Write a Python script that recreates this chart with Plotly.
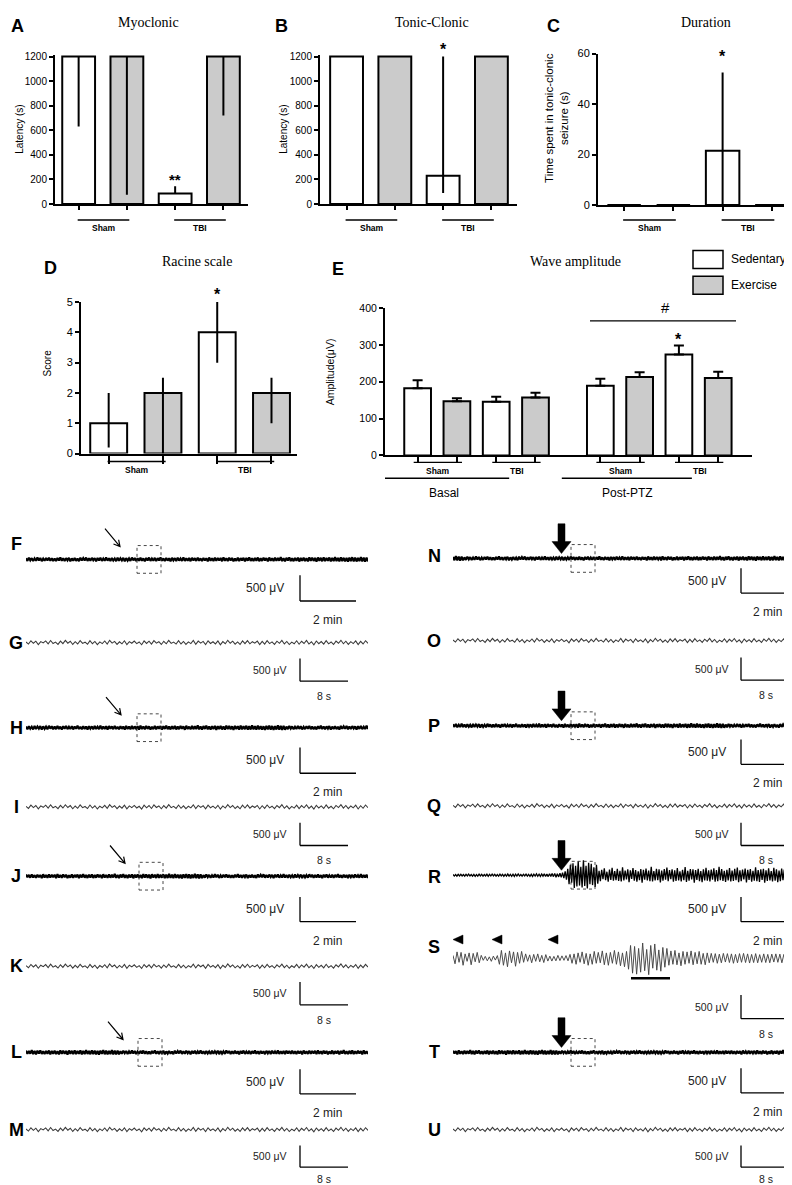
import math
import plotly.graph_objects as go

W, H = 792, 1185

# ------------------------------------------------------------------ data
groups = ["Sham", "TBI"]
series_names = ["Sedentary", "Exercise"]
conditions = ["Basal", "Post-PTZ"]

# A  Myoclonic latency (s)
myo_sed = [1200, 85]
myo_sed_plus = [0, 60]
myo_sed_minus = [570, 0]
myo_ex = [1200, 1200]
myo_ex_plus = [0, 0]
myo_ex_minus = [1125, 480]

# B  Tonic-clonic latency (s)
tc_sed = [1200, 230]
tc_sed_plus = [0, 970]
tc_sed_minus = [0, 140]
tc_ex = [1200, 1200]
tc_ex_plus = [0, 0]
tc_ex_minus = [0, 0]

# C  Duration of tonic-clonic seizure (s)
dur_sed = [0, 21.5]
dur_sed_plus = [0, 31]
dur_sed_minus = [0, 21.5]
dur_ex = [0, 0]
dur_ex_plus = [0, 0]
dur_ex_minus = [0, 0]

# D  Racine scale score
rac_sed = [1, 4]
rac_sed_plus = [1, 1]
rac_sed_minus = [0.8, 1]
rac_ex = [2, 2]
rac_ex_plus = [0.5, 0.5]
rac_ex_minus = [2, 1]

# E  Wave amplitude (µV); order: Basal-Sham, Basal-TBI, PTZ-Sham, PTZ-TBI
amp_sed = [182, 146, 189, 274]
amp_sed_sem = [22, 13, 19, 24]
amp_ex = [147, 157, 213, 210]
amp_ex_sem = [8, 13, 13, 17]

# EEG samples (µV)
eeg_2min = [22, -30, 35, -18, 27, -33, 20, -26, 38, -24, 29, -35, 17, -28, 31, -22, 36, -29, 24, -31,
            19, -34, 28, -21, 40, -27, 23, -32, 26, -19, 33, -38, 21, -25, 30, -29, 18, -36, 34, -23,
            27, -20, 37, -31, 22, -28, 32, -17, 25, -39, 29, -24, 35, -30, 20, -27, 41, -26, 23, -33,
            30, -22, 19, -35, 36, -28, 24, -20, 33, -37, 27, -25, 21, -31, 38, -19, 28, -34, 25, -29,
            34, -26, 22, -38, 29, -21, 37, -30, 18, -27, 32, -35, 26, -23, 39, -28, 21, -32, 30, -24,
            24, -37, 31, -20, 27, -33, 35, -25, 20, -29, 42, -31, 23, -27, 29, -36, 33, -22, 26, -30,
            36, -28, 21, -34, 30, -23, 25, -39, 38, -26, 22, -31, 34, -29, 27, -21, 31, -37, 40, -27,
            23, -32, 35, -24, 28, -38, 20, -29, 37, -33, 26, -22, 32, -40, 29, -25, 43, -31, 24, -35,
            31, -27, 38, -36, 25, -30, 34, -23, 27, -41, 39, -28, 22, -34, 36, -30, 28, -26, 45, -33,
            27, -38, 33, -25, 41, -32, 24, -36, 30, -28, 37, -42, 29, -27, 34, -35, 26, -39, 40, -30,
            35, -31, 29, -44, 38, -27, 32, -37, 43, -34, 28, -30, 39, -41, 31, -36, 46, -33, 30, -38,
            41, -35, 33, -40, 29, -45, 37, -32, 44, -38, 34, -42, 31, -36, 47, -39, 35, -43, 38, -40]

eeg_8s = [12, -30, 36, -14, 28, -40, 20, -8, 34, -26, 42, -18, 10, -36, 30, -22, 44, -12, 26, -38,
          18, -28, 40, -16, 8, -34, 38, -24, 22, -42, 14, -20, 32, -30, 46, -10, 24, -36, 16, -26,
          36, -40, 20, -14, 30, -22, 12, -44, 34, -18, 28, -32, 40, -12, 18, -38, 26, -24, 44, -16,
          10, -30, 38, -28, 22, -36, 14, -20, 42, -34, 30, -10, 24, -40, 36, -18, 16, -28, 32, -46,
          20, -24, 46, -14, 28, -32, 12, -38, 34, -22, 40, -26, 18, -12, 30, -42, 24, -30, 38, -20,
          14, -36, 28, -16, 44, -28, 22, -40, 10, -24, 36, -34, 26, -18, 42, -30, 16, -44, 32, -22,
          20, -32, 40, -26, 12, -38, 30, -14, 46, -24, 28, -36, 18, -20, 34, -42, 24, -28, 38, -16]

eeg_R = [15, -18, 12, -20, 17, -14, 19, -16, 13, -21, 18, -15, 20, -17, 14, -19, 16, -22, 12, -18,
         21, -15, 17, -20, 14, -16, 19, -23, 15, -17, 22, -14, 18, -21, 13, -19, 20, -16, 17, -24,
         15, -18, 23, -20, 16, -22, 19, -25, 21, -18, 24, -17, 14, -21, 19, -16, 22, -20, 15, -23,
         18, -25, 21, -17, 26, -22, 19, -24, 23, -20, 27, -25, 22, -28, 30, -24, 33, -29, 36, -40,
         28, -34, 40, -45, 52, -60, 75, -90,
         130, -180, 210, -150, 240, -260, 190, -230, 280, -210, 170, -250, 300, -220, 190, -270,
         250, -180, 230, -200, 160, -240, 210, -170,
         90, -120, 110, -80, 140, -100, 70, -130, 115, -95, 150, -110, 85, -100, 130, -115, 90, -125, 160, -105,
         95, -85, 120, -140, 100, -75, 145, -110, 105, -130, 80, -100, 125, -150, 110, -90, 135, -105, 95, -120,
         170, -125, 85, -105, 130, -100, 120, -145, 95, -110, 125, -90, 155, -120, 105, -80, 120, -130, 100, -115,
         145, -105, 80, -125, 110, -100, 165, -135, 90, -110, 125, -85, 120, -150, 105, -95, 130, -120, 85, -140,
         120, -105, 150, -110, 100, -125, 115, -90, 140, -130, 105, -120, 170, -100, 125, -115, 90, -135, 110, -105,
         145, -125, 95, -115, 130, -100, 155, -140, 100, -120, 115, -85, 135, -145, 110, -95, 125, -130, 90, -110,
         160, -120, 105, -135, 120, -95, 130, -150, 100, -115, 140, -105, 85, -125, 150, -110, 120, -140, 95, -120,
         135, -100, 115, -130, 105, -145, 125, -90, 150, -115, 110, -135]

eeg_S = [60, -110, 130, -80, 120, -140, 90, -60, 110, -130, 100, -70, 120, -90, 60, -40,
         40, -50, 30, -60, 45, -35, 55,
         -120, 160, -140, 110, -170, 150, -90, 130, -160, 120, -100, 140, -80, 90, -60,
         70, -90, 80, -60, 90, -70, 60, -85, 75, -55,
         45, -55, 40, -50, 60, -45, 50, -40, 55, -50,
         80, -100, 90, -120, 110, -80, 130, -110, 100, -140, 90, -120, 140, -100, 120, -90, 150, -130,
         110, -140, 120, -100, 160, -120, 130, -150, 110, -170, 140,
         -220, 260, -300, 240, -320, 200, -280, 310, -250, 180, -330, 260, -200, 290, -240, 170, -260, 220, -180, 200,
         -140, 150, -120, 160, -130, 110, -150, 140, -120, 130, -100, 150, -130, 120, -110, 140, -120, 100, -130, 110,
         -90, 100, -80, 95, -100, 85, -90, 100, -75, 95, -85, 90, -100, 80, -90, 95, -80, 100, -85, 90, -95, 80,
         -85, 95, -90, 75, -80, 90, -85, 80, -90, 85, -75, 90, -80, 85, -90, 80, -75, 85, -80, 90, -85, 75]

# ------------------------------------------------------------------ helpers
SANS = "Liberation Sans, Arial, sans-serif"
SERIF = "Liberation Serif, Times New Roman, serif"
GRAY = "#cbcbcb"
BARW = 0.68

fig = go.Figure()
axes = {}
shapes = []
annots = []
n_ax = [0]


def px(x):
    return x / W


def py(y):
    return 1 - y / H


def add_axes(x0, x1, ytop, ybot, xcfg, ycfg):
    n_ax[0] += 1
    k = n_ax[0]
    sfx = "" if k == 1 else str(k)
    axes["xaxis" + sfx] = dict(domain=[px(x0), px(x1)], anchor="y" + sfx, **xcfg)
    axes["yaxis" + sfx] = dict(domain=[py(ybot), py(ytop)], anchor="x" + sfx, **ycfg)
    return "x" + sfx, "y" + sfx


def text(t, x, y, size=11, bold=False, family=SANS, color="black",
         xanchor="center", angle=0, xref="paper"):
    annots.append(dict(text=f"<b>{t}</b>" if bold else t,
                       x=px(x) if xref == "paper" else x, y=py(y),
                       xref=xref, yref="paper", showarrow=False,
                       font=dict(size=size, family=family, color=color),
                       xanchor=xanchor, yanchor="middle", textangle=angle))


def line(x0, x1, y0, y1, width=1.5, xref="paper", color="black", dash="solid"):
    shapes.append(dict(type="line", xref=xref, yref="paper",
                       x0=px(x0) if xref == "paper" else x0,
                       x1=px(x1) if xref == "paper" else x1,
                       y0=py(y0), y1=py(y1),
                       line=dict(color=color, width=width, dash=dash)))


def poly(points, fill="black"):
    d = "M " + " L ".join(f"{px(x):.5f},{py(y):.5f}" for x, y in points) + " Z"
    shapes.append(dict(type="path", xref="paper", yref="paper", path=d,
                       fillcolor=fill, line=dict(color="black", width=0.5)))


def rect(x0, y0, x1, y1, fill="white", width=1.5, dash="solid", color="black"):
    shapes.append(dict(type="rect", xref="paper", yref="paper",
                       x0=px(x0), x1=px(x1), y0=py(y1), y1=py(y0),
                       fillcolor=fill, line=dict(color=color, width=width, dash=dash)))


def bar_panel(x0, x1, ytop, ybot, xr, yr, yticks, data, pos_sed, pos_ex,
              capw=0, ticklen_x=4, tickfont=10):
    xa, ya = add_axes(
        x0, x1, ytop, ybot,
        dict(range=xr, showline=True, linecolor="black", linewidth=2,
             ticks="outside", ticklen=ticklen_x, tickwidth=1.5, tickcolor="black",
             tickvals=sorted(pos_sed + pos_ex), showticklabels=False,
             showgrid=False, zeroline=False, fixedrange=True),
        dict(range=yr, showline=True, linecolor="black", linewidth=2,
             ticks="outside", ticklen=4, tickwidth=1.5, tickcolor="black",
             tickvals=yticks, showgrid=False, zeroline=False, fixedrange=True,
             tickfont=dict(size=tickfont, family=SANS, color="black")))
    (sed, sp, sm), (ex, ep, em) = data
    for name, pos, vals, p, m, fill in [(series_names[0], pos_sed, sed, sp, sm, "white"),
                                        (series_names[1], pos_ex, ex, ep, em, GRAY)]:
        fig.add_trace(go.Bar(
            x=pos, y=vals, width=BARW, name=name, showlegend=False,
            marker=dict(color=fill, line=dict(color="black", width=2)),
            error_y=dict(type="data", symmetric=False, array=p, arrayminus=m,
                         color="black", thickness=2, width=capw),
            xaxis=xa, yaxis=ya))
    return xa, ya


def group_labels(xa, y_line, y_text):
    for g, name in enumerate(groups):
        base = 2 * g
        line(base - 0.02, base + 1.05, y_line, y_line, width=1.5, xref=xa)
        text(name, base + 0.52, y_text, size=8.5, bold=True, xref=xa)


pos_sed4 = [2 * g for g in range(len(groups))]
pos_ex4 = [2 * g + 1 for g in range(len(groups))]

# ------------------------------------------------------------------ A
xa, ya = bar_panel(47, 240, 41, 192, [-0.49, 3.51], [0, 1216], list(range(0, 1201, 200)),
                   [(myo_sed, myo_sed_plus, myo_sed_minus), (myo_ex, myo_ex_plus, myo_ex_minus)],
                   pos_sed4, pos_ex4)
group_labels(xa, 208, 216)
text("**", pos_sed4[1], 167, size=15, bold=True, xref=xa)
text("A", 9, 12, size=18, bold=True)
text("Myoclonic", 140, 9, size=14, family=SERIF)
text("Latency (s)", 12, 117, size=10, angle=-90)

# ------------------------------------------------------------------ B
xb, yb = bar_panel(312, 509, 41, 192, [-0.55, 3.53], [0, 1216], list(range(0, 1201, 200)),
                   [(tc_sed, tc_sed_plus, tc_sed_minus), (tc_ex, tc_ex_plus, tc_ex_minus)],
                   pos_sed4, pos_ex4)
group_labels(xb, 208, 216)
text("*", pos_sed4[1], 36, size=16, bold=True, xref=xb)
text("B", 273, 12, size=18, bold=True)
text("Tonic-Clonic", 424, 9, size=14, family=SERIF)
text("Latency (s)", 276, 117, size=10, angle=-90)

# ------------------------------------------------------------------ C
xc, yc_ = bar_panel(590, 788, 40, 193, [-0.53, 3.49], [0, 60], [0, 20, 40, 60],
                    [(dur_sed, dur_sed_plus, dur_sed_minus), (dur_ex, dur_ex_plus, dur_ex_minus)],
                    pos_sed4, pos_ex4, tickfont=11)
group_labels(xc, 208, 216)
text("*", pos_sed4[1], 43, size=16, bold=True, xref=xc)
text("C", 545, 12, size=18, bold=True)
text("Duration", 698, 9, size=14, family=SERIF)
text("Time spent in tonic-clonic<br>seizure (s)", 549, 105, size=11.5, angle=-90)

# ------------------------------------------------------------------ D
xd, yd = bar_panel(73, 289, 291, 444, [-0.51, 3.47], [0, 5], [0, 1, 2, 3, 4, 5],
                   [(rac_sed, rac_sed_plus, rac_sed_minus), (rac_ex, rac_ex_plus, rac_ex_minus)],
                   pos_sed4, pos_ex4, ticklen_x=8, tickfont=11)
group_labels(xd, 452, 461)
text("*", pos_sed4[1], 283, size=16, bold=True, xref=xd)
text("D", 42, 257, size=18, bold=True)
text("Racine scale", 189, 250, size=14, family=SERIF)
text("Score", 39, 353, size=10, angle=-90)

# ------------------------------------------------------------------ E
COND_GAP = 4.65
pos_sed8 = [c * COND_GAP + 2 * g for c in range(len(conditions)) for g in range(len(groups))]
pos_ex8 = [p + 1 for p in pos_sed8]
zeros = [0] * len(amp_sed)
xe, ye = bar_panel(377, 744, 297, 446, [-0.83, 8.51], [0, 400], [0, 100, 200, 300, 400],
                   [(amp_sed, amp_sed_sem, zeros), (amp_ex, amp_ex_sem, zeros)],
                   pos_sed8, pos_ex8, capw=5, ticklen_x=6, tickfont=10.5)
for c, cname in enumerate(conditions):
    off = c * COND_GAP
    for g, name in enumerate(groups):
        base = off + 2 * g
        line(base - 0.1, base + 1.13, 453, 453, width=1.3, xref=xe)
        text(name, base + 0.53, 462, size=8.5, bold=True, xref=xe)
    line(off - 0.98, off + 2.33, 469, 469, width=1.3, xref=xe)
    text(cname, off + 0.68, 484, size=12, xref=xe)
text("*", pos_sed8[3], 329, size=16, bold=True, xref=xe)
line(582, 728, 310, 310, width=1.3)
text("#", 657, 297, size=15)
text("E", 330, 258, size=18, bold=True)
text("Wave amplitude", 567, 250, size=14, family=SERIF)
text("Amplitude(μV)", 322, 362, size=10.5, angle=-90)
# legend
rect(685, 239, 715, 257, fill="white", width=1.5)
rect(685, 265, 715, 283, fill=GRAY, width=1.5)
text(series_names[0], 721, 248, size=12, xanchor="left")
text(series_names[1], 721, 274, size=12, xanchor="left")

# ------------------------------------------------------------------ EEG traces
LEFT = (18, 360)
RIGHT = (445, 788)

rows = [
    # letter, column, trace y, kind, letter y
    ("F", LEFT, 551, "2min", 535),
    ("G", LEFT, 635, "8s", 635),
    ("H", LEFT, 721, "2min", 721),
    ("I", LEFT, 801, "8s", 801),
    ("J", LEFT, 871, "2min", 871),
    ("K", LEFT, 962, "8s", 962),
    ("L", LEFT, 1049, "2min", 1049),
    ("M", LEFT, 1127, "8s", 1127),
    ("N", RIGHT, 550, "2min", 548),
    ("O", RIGHT, 633, "8s", 633),
    ("P", RIGHT, 719, "2min", 719),
    ("Q", RIGHT, 800, "8s", 800),
    ("R", RIGHT, 870, "R", 872),
    ("S", RIGHT, 954, "S", 943),
    ("T", RIGHT, 1049, "2min", 1049),
    ("U", RIGHT, 1127, "8s", 1127),
]

# scale-bar vertical extent (offsets below the trace) and label gap
scale_off = {"F": (16, 42), "G": (16, 39), "H": (20, 46), "I": (16, 39), "J": (21, 46),
             "K": (16, 39), "L": (17, 42), "M": (16, 38), "N": (10, 35), "O": (17, 40),
             "P": (14, 39), "Q": (17, 40), "R": (22, 47), "S": (37, 61), "T": (16, 41),
             "U": (16, 38)}
label_gap = {"M": 12, "U": 12}
thin_arrow_x = {"F": 97, "H": 98, "J": 102, "L": 100}
box_x = {"F": 129, "H": 129, "J": 131, "L": 130, "N": 563, "P": 563, "R": 563, "T": 563}

for i, (letter, col, yc, kind, ly) in enumerate(rows):
    if kind == "2min":
        k = (i * 29) % len(eeg_2min)
        vals = eeg_2min[k:] + eeg_2min[:k]
        color, lw = "black", 2.1
    elif kind == "8s":
        vals = eeg_8s
        color, lw = "#3a3a3a", 1.05
    elif kind == "R":
        vals = eeg_R
        color, lw = "black", 1.3
    else:
        vals = eeg_S
        color, lw = "#444444", 0.95
    xa_t, ya_t = add_axes(col[0], col[1], yc - 30, yc + 30,
                          dict(range=[0, len(vals) - 1], visible=False, fixedrange=True),
                          dict(range=[-600, 600], visible=False, fixedrange=True))
    fig.add_trace(go.Scatter(x=list(range(len(vals))), y=vals, mode="lines",
                             line=dict(color=color, width=lw), hoverinfo="skip",
                             showlegend=False, xaxis=xa_t, yaxis=ya_t))

    lx = 8 if col == LEFT else 426
    text(letter, lx, ly, size=18, bold=True)

    # scale bars
    top, bot = scale_off[letter]
    is_min = kind in ("2min", "R")
    if col == LEFT:
        vx = 292
        hx1 = 348 if is_min else 340
        tx = 257 if is_min else 262
        lbx = 319 if is_min else 316
    else:
        vx = 733
        hx1 = 788 if is_min else 782
        tx = 699 if is_min else 704
        lbx = 759 if is_min else 758
    gap = label_gap.get(letter, 19 if is_min else 15)
    line(vx, vx, yc + top, yc + bot, width=1.3)
    line(vx, hx1, yc + bot, yc + bot, width=1.3)
    text("500 μV", tx, yc + (top + bot) / 2, size=12 if is_min else 10.5, color="#222222")
    text("2 min" if is_min else "8 s", lbx, yc + bot + gap,
         size=12 if is_min else 10.5, color="#222222")

    # arrows and dotted boxes
    if kind in ("2min", "R"):
        bx = box_x[letter]
        rect(bx, yc - 14, bx + 24, yc + 14, fill="rgba(0,0,0,0)", width=0.9,
             dash="dot", color="#333333")
        if col == LEFT:
            x0, y0 = thin_arrow_x[letter], yc - 31
            x1, y1 = x0 + 15, yc - 13
            ang = math.atan2(y1 - y0, x1 - x0)
            hl = 7
            h1 = (x1 - hl * math.cos(ang - 0.5), y1 - hl * math.sin(ang - 0.5))
            h2 = (x1 - hl * math.cos(ang + 0.5), y1 - hl * math.sin(ang + 0.5))
            d = (f"M {px(x0):.5f},{py(y0):.5f} L {px(x1):.5f},{py(y1):.5f} "
                 f"M {px(h1[0]):.5f},{py(h1[1]):.5f} L {px(x1):.5f},{py(y1):.5f} "
                 f"L {px(h2[0]):.5f},{py(h2[1]):.5f}")
            shapes.append(dict(type="path", xref="paper", yref="paper", path=d,
                               line=dict(color="black", width=1.2)))
        else:
            ax_ = 553.5
            poly([(ax_ - 3.5, yc - 35), (ax_ + 3.5, yc - 35), (ax_ + 3.5, yc - 17),
                  (ax_ + 9.5, yc - 17), (ax_, yc - 5), (ax_ - 9.5, yc - 17),
                  (ax_ - 3.5, yc - 17)])

    if kind == "S":
        for tip in (445, 484, 540):
            poly([(tip, 935), (tip + 10, 930.5), (tip + 10, 939.5)])
        line(623, 662, 974, 974, width=2.5)

fig.update_layout(
    width=W, height=H, margin=dict(l=0, r=0, t=0, b=0),
    paper_bgcolor="white", plot_bgcolor="rgba(0,0,0,0)",
    barmode="overlay", showlegend=False,
    shapes=shapes, annotations=annots, **axes)

fig.write_html("out.html")
